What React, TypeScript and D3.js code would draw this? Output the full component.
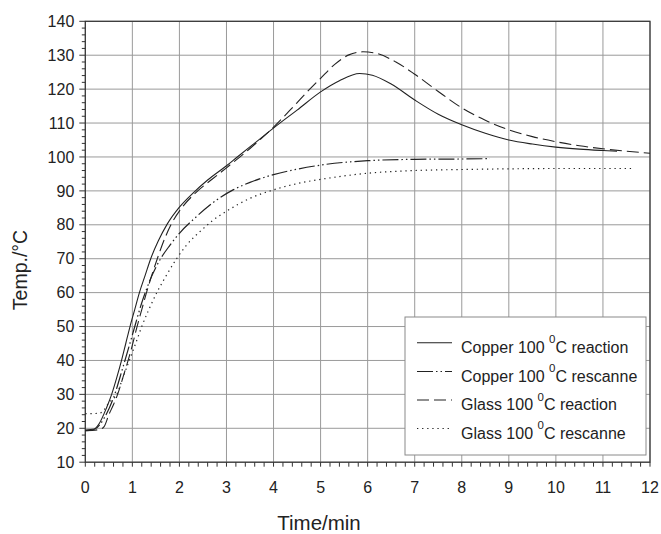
import React from "react";
import * as d3 from "d3";

const copperReactionT = [0, 0.15, 0.3, 0.45, 0.56, 0.67, 0.77, 0.86, 0.95, 1.05, 1.15, 1.27, 1.39, 1.55, 1.74, 2.0, 2.3, 2.6, 3.0, 3.23, 3.6, 4.1, 4.5, 5.0, 5.4, 5.83, 6.1, 6.5, 7.0, 7.5, 8.0, 8.5, 9.0, 9.5, 10.0, 10.5, 11.0, 11.3];
const copperReactionV = [19.3, 19.5, 21.5, 26, 30, 35, 40, 45, 50, 55, 60, 65, 70, 75.2, 80.2, 85.2, 89.5, 93.2, 97.4, 100, 104.1, 109.6, 113.8, 119.2, 122.5, 124.6, 124.1, 121.5, 116.8, 112.6, 109.5, 107, 105, 103.8, 102.9, 102.3, 101.9, 101.7];

const copperRescanT = [0, 0.2, 0.4, 0.6, 0.8, 1.0, 1.2, 1.4, 1.6, 1.8, 2.0, 2.33, 2.8, 3.14, 3.5, 4.0, 4.5, 5.0, 6.0, 7.0, 8.0, 8.6];
const copperRescanV = [19.5, 19.8, 23, 29, 38, 47.5, 57, 64.5, 70, 74, 77.5, 82, 87.4, 90.3, 92.5, 94.8, 96.4, 97.6, 98.9, 99.3, 99.4, 99.5];

const glassReactionT = [0, 0.3, 0.4, 0.5, 0.6, 0.7, 0.8, 0.91, 1.0, 1.1, 1.2, 1.3, 1.41, 1.53, 1.66, 1.82, 2.05, 2.35, 2.7, 3.0, 3.5, 4.0, 4.35, 4.7, 5.0, 5.3, 5.6, 5.9, 6.2, 6.6, 7.0, 7.5, 8.0, 8.5, 9.0, 9.5, 10.0, 10.5, 11.0, 11.5, 12.0];
const glassReactionV = [19.3, 19.6, 20.5, 24, 27, 30.5, 35, 40, 44.5, 50, 55, 60, 65, 70, 75, 80, 85, 89.5, 93.5, 96.8, 102.5, 108.8, 113.8, 119, 123.2, 127.3, 130.1, 131, 130.5, 128, 124.4, 119.3, 114.5, 110.8, 108, 106, 104.5, 103.3, 102.4, 101.7, 101.1];

const glassRescanT = [0, 0.3, 0.4, 0.5, 0.67, 0.8, 0.95, 1.07, 1.2, 1.35, 1.52, 1.72, 1.94, 2.14, 2.5, 2.7, 3.0, 3.5, 4.0, 4.7, 5.0, 6.0, 7.0, 8.0, 9.0, 10.0, 11.0, 11.6];
const glassRescanV = [24.3, 24.4, 25.5, 27.5, 30, 35, 40.5, 45, 50, 55, 60, 65, 70, 73.8, 78.8, 81.2, 84, 87.8, 90.3, 92.7, 93.4, 95.2, 96, 96.3, 96.5, 96.6, 96.6, 96.6];

const seriesNames = [
  "Copper 100 |C reaction",
  "Copper 100 |C rescanne",
  "Glass 100 |C reaction",
  "Glass 100 |C rescanne",
];
const xTicks = [0, 1, 2, 3, 4, 5, 6, 7, 8, 9, 10, 11, 12];
const yTicks = [10, 20, 30, 40, 50, 60, 70, 80, 90, 100, 110, 120, 130, 140];

const W = 661;
const H = 534;
const L = 85.3, R = 650, T = 21.3, B = 462.2;
const FONT = "'Liberation Sans', Arial, sans-serif";
const INK = "#222";

export default function App() {
  const x = d3.scaleLinear().domain([0, 12]).range([L, R]);
  const y = d3.scaleLinear().domain([10, 140]).range([B, T]);
  const line = d3
    .line<[number, number]>()
    .x((d) => x(d[0]))
    .y((d) => y(d[1]))
    .curve(d3.curveMonotoneX);

  const zip = (a: number[], b: number[]) => a.map((t, i) => [t, b[i]] as [number, number]);
  const series = [
    { data: zip(copperReactionT, copperReactionV), dash: "none", w: 1.1 },
    { data: zip(copperRescanT, copperRescanV), dash: "16,3,1.5,3,1.5,3", w: 1.2 },
    { data: zip(glassReactionT, glassReactionV), dash: "12,5", w: 1.1 },
    { data: zip(glassRescanT, glassRescanV), dash: "1.3,3.8", w: 1.2 },
  ];

  const xMinor = d3.range(0, 12.001, 0.2);
  const yMinor = d3.range(10, 140.001, 2);

  const legX = 405, legY = 317, legW = 241, legH = 138;
  const rowBase = [352.7, 381.5, 410, 438.5];

  return (
    <svg width={W} height={H} style={{ position: "absolute", left: 0, top: 0, background: "#fff" }}>
      <rect x={0} y={0} width={W} height={H} fill="#fff" />
      {/* grid */}
      {xTicks.map((t) => (
        <line key={"gx" + t} x1={x(t)} x2={x(t)} y1={T} y2={B} stroke="#9a9a9a" strokeWidth={1} />
      ))}
      {yTicks.map((v) => (
        <line key={"gy" + v} x1={L} x2={R} y1={y(v)} y2={y(v)} stroke="#9a9a9a" strokeWidth={1} />
      ))}
      {/* minor ticks */}
      {xMinor.map((t, i) => (
        <line key={"xm" + i} x1={x(t)} x2={x(t)} y1={B} y2={B + 4.5} stroke="#333" strokeWidth={1} />
      ))}
      {yMinor.map((v, i) => (
        <line key={"ym" + i} x1={L - (v % 10 === 0 ? 6 : 3.5)} x2={L} y1={y(v)} y2={y(v)} stroke="#333" strokeWidth={1} />
      ))}
      {/* frame */}
      <rect x={L} y={T} width={R - L} height={B - T} fill="none" stroke="#333" strokeWidth={1.2} />
      {/* tick labels */}
      {xTicks.map((t) => (
        <text key={"xl" + t} x={x(t)} y={493} textAnchor="middle" fontFamily={FONT} fontSize={16} fill={INK}>
          {t}
        </text>
      ))}
      {yTicks.map((v) => (
        <text key={"yl" + v} x={L - 11} y={y(v) + 5.7} textAnchor="end" fontFamily={FONT} fontSize={16} fill={INK}>
          {v}
        </text>
      ))}
      {/* axis titles */}
      <text x={319} y={530} textAnchor="middle" fontFamily={FONT} fontSize={20.5} fill={INK}>
        Time/min
      </text>
      <text transform={`translate(27,270) rotate(-90)`} textAnchor="middle" fontFamily={FONT} fontSize={19.5} fill={INK}>
        Temp./°C
      </text>
      {/* curves */}
      <g clipPath="url(#clip)">
        {series.map((s, i) => (
          <path key={"s" + i} d={line(s.data) || ""} fill="none" stroke={INK} strokeWidth={s.w} strokeDasharray={s.dash} />
        ))}
      </g>
      <defs>
        <clipPath id="clip">
          <rect x={L} y={T} width={R - L} height={B - T} />
        </clipPath>
      </defs>
      {/* legend */}
      <rect x={legX} y={legY} width={legW} height={legH} fill="#fff" stroke="#8a8a8a" strokeWidth={1} />
      {seriesNames.map((name, i) => {
        const [pre, post] = name.split("|");
        const yy = rowBase[i];
        return (
          <g key={"lg" + i}>
            <line x1={417} x2={452} y1={yy - 10} y2={yy - 10} stroke={INK} strokeWidth={series[i].w} strokeDasharray={series[i].dash} />
            <text x={461} y={yy} fontFamily={FONT} fontSize={16} fill={INK}>
              {pre}
              <tspan fontSize={11.5} dy={-9.4}>0</tspan>
              <tspan dy={9.4}>{post}</tspan>
            </text>
          </g>
        );
      })}
    </svg>
  );
}
